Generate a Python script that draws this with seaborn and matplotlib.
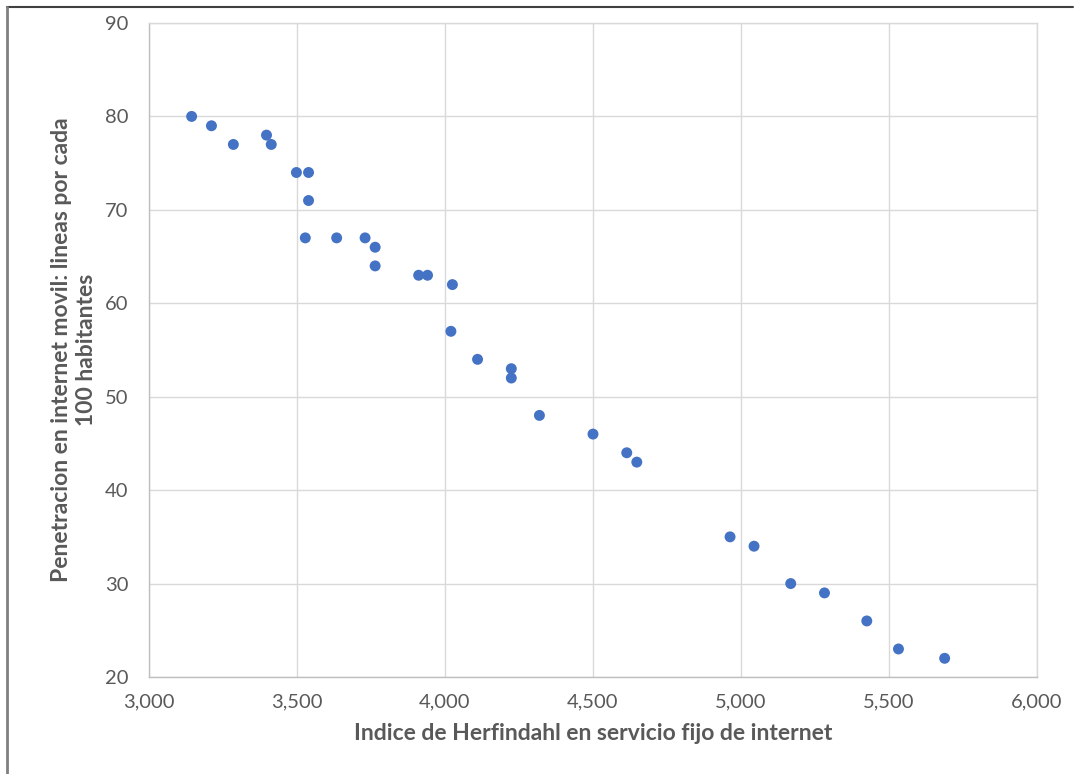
import matplotlib
matplotlib.use("Agg")
import matplotlib.pyplot as plt
from matplotlib.lines import Line2D
from matplotlib.ticker import FuncFormatter, MultipleLocator
import seaborn as sns
import pandas as pd

sns.set_theme(style="white")
plt.rcParams['font.family'] = ['Lato', 'DejaVu Sans']

# Herfindahl index (fixed internet) vs mobile internet penetration
herfindahl = [3144, 3211, 3285, 3397, 3413, 3498, 3539, 3539, 3528, 3634,
              3730, 3764, 3764, 3911, 3941, 4025, 4020, 4110, 4224, 4224,
              4319, 4500, 4614, 4648, 4963, 5044, 5168, 5282, 5425, 5532, 5688]
penetracion = [80, 79, 77, 78, 77, 74, 74, 71, 67, 67,
               67, 66, 64, 63, 63, 62, 57, 54, 53, 52,
               48, 46, 44, 43, 35, 34, 30, 29, 26, 23, 22]

df = pd.DataFrame({"hhi": herfindahl, "pen": penetracion})

W, H = 1087, 774
fig = plt.figure(figsize=(W / 100, H / 100), dpi=100)
ax = fig.add_axes([149 / W, 1 - 677 / H, (1037 - 149) / W, (677 - 23) / H])

sns.scatterplot(data=df, x="hhi", y="pen", ax=ax, color="#4472C4",
                s=62, edgecolor="none", zorder=3)

ax.set_xlim(3000, 6000)
ax.set_ylim(20, 90)
ax.xaxis.set_major_locator(MultipleLocator(500))
ax.yaxis.set_major_locator(MultipleLocator(10))
ax.xaxis.set_major_formatter(FuncFormatter(lambda v, p: f"{v:,.0f}"))

ax.grid(True, color="#d9d9d9", linewidth=1)
ax.set_axisbelow(True)
for side in ["top", "right"]:
    ax.spines[side].set_color("#d9d9d9")
for side in ["left", "bottom"]:
    ax.spines[side].set_color("#bfbfbf")
for sp in ax.spines.values():
    sp.set_linewidth(1)

ax.tick_params(axis="both", length=0, labelsize=14.5, labelcolor="#595959")
ax.tick_params(axis="y", pad=15)
ax.tick_params(axis="x", pad=12)

ax.set_xlabel("Indice de Herfindahl en servicio fijo de internet",
              fontsize=16.5, fontweight="bold", color="#595959", labelpad=9)
ax.set_ylabel("Penetracion en internet movil: lineas por cada\n100 habitantes",
              fontsize=16.5, fontweight="bold", color="#595959", linespacing=1.25)
ax.yaxis.set_label_coords(-0.058, 0.5)

# outer chart frame (cropped)
fig.add_artist(Line2D([7 / W, 1073 / W], [1 - 7 / H, 1 - 7 / H],
                      transform=fig.transFigure, color="#404040", linewidth=1.5))
fig.add_artist(Line2D([7 / W, 7 / W], [1 - 7 / H, 0],
                      transform=fig.transFigure, color="#808080", linewidth=2))

fig.savefig("out.png", dpi=100)
